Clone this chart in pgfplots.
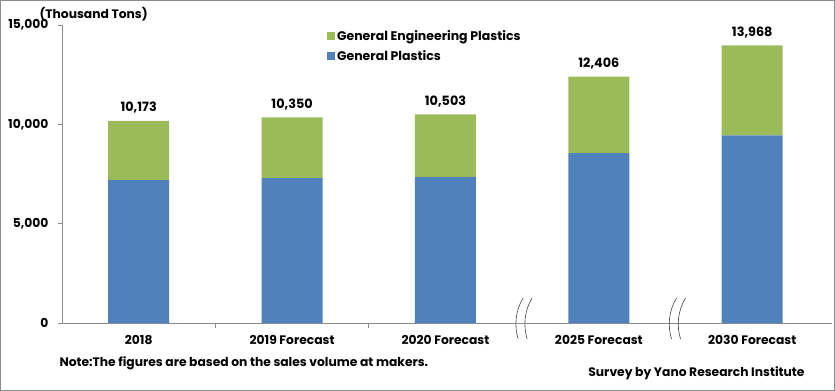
\documentclass[border=0pt]{standalone}
\usepackage{pgfplots}
\pgfplotsset{compat=1.18}
\usepackage{pgfplotstable}
\usepackage{fontspec}
\setmainfont{Poppins}
\definecolor{gp}{HTML}{4F81BD}
\definecolor{gep}{HTML}{9BBB59}
\definecolor{ax}{HTML}{8C8C8C}
\pgfplotstableread{
x gp gep total
0 7190 2983 10173
1 7290 3060 10350
2 7340 3163 10503
3 8545 3861 12406
4 9448 4520 13968
}\data
\begin{document}
\begin{tikzpicture}
\path (0bp,0bp) rectangle (835bp,391bp);
\begin{axis}[
  at={(62bp,68bp)}, anchor=south west,
  scale only axis, width=770bp, height=298bp,
  ybar stacked, bar width=61bp,
  xmin=-0.5, xmax=4.52, ymin=0, ymax=15000,
  axis x line*=bottom, axis y line*=left,
  axis line style={ax, line width=0.8bp},
  xtick={0,1,2,3,4},
  xticklabels={2018,2019 Forecast,2020 Forecast,2025 Forecast,2030 Forecast},
  xtick style={draw=none},
  x tick label style={font=\bfseries\fontsize{12.3bp}{14bp}\selectfont, yshift=-5bp},
  ytick={0,5000,10000,15000},
  ytick style={ax, line width=0.8bp},
  tick align=outside, major tick length=4bp,
  y tick label style={font=\bfseries\fontsize{12.3bp}{14bp}\selectfont, xshift=-6bp},
  /pgf/number format/assume math mode=true,
  /pgf/number format/1000 sep={,},
  scaled y ticks=false,
  clip=false,
  legend style={at={(0.344,0.99)}, anchor=north west, draw=none, fill=none,
    font=\bfseries\fontsize{12.5bp}{14bp}\selectfont, row sep=5bp,
    inner sep=0pt},
  legend cell align=left,
  reverse legend,
  legend image code/.code={\fill[#1] (0bp,-4bp) rectangle (8bp,4bp);},
]
\addplot[fill=gp, draw=none] table[x=x, y=gp] {\data};
\addlegendentry{General Plastics}
\addplot[fill=gep, draw=none] table[x=x, y=gep] {\data};
\addlegendentry{General Engineering Plastics}
\draw[ax, line width=0.8bp] (axis cs:0.5,0) -- ++(0bp,-5bp);
\draw[ax, line width=0.8bp] (axis cs:1.5,0) -- ++(0bp,-5bp);
\draw[black!75, line width=0.6bp, shift={(axis cs:2.5,0)}] (1bp,25bp) .. controls (-7bp,12bp) and (-8bp,-3bp) .. (-4bp,-16bp);
\draw[black!75, line width=0.6bp, shift={(axis cs:2.5,0)}] (10bp,25bp) .. controls (2bp,12bp) and (1bp,-3bp) .. (5bp,-16bp);
\draw[black!75, line width=0.6bp, shift={(axis cs:3.5,0)}] (1bp,25bp) .. controls (-7bp,12bp) and (-8bp,-3bp) .. (-4bp,-16bp);
\draw[black!75, line width=0.6bp, shift={(axis cs:3.5,0)}] (10bp,25bp) .. controls (2bp,12bp) and (1bp,-3bp) .. (5bp,-16bp);
\end{axis}
\begin{axis}[
  at={(62bp,68bp)}, anchor=south west,
  scale only axis, width=770bp, height=298bp,
  xmin=-0.5, xmax=4.52, ymin=0, ymax=15000,
  hide axis, clip=false,
  /pgf/number format/assume math mode=true,
  /pgf/number format/1000 sep={,},
]
\addplot[draw=none, mark=none,
  point meta=explicit,
  nodes near coords={\pgfmathprintnumber[assume math mode=true,1000 sep={,}]{\pgfplotspointmeta}},
  nodes near coords style={font=\bfseries\fontsize{12.8bp}{15bp}\selectfont, anchor=south, yshift=4bp, text=black}
  ] table[x=x, y=total, meta=total] {\data};
\end{axis}
\node[anchor=west, font=\bfseries\fontsize{12.3bp}{14bp}\selectfont] at (36bp,377bp) {(Thousand Tons)};
\node[anchor=west, font=\bfseries\fontsize{12.3bp}{14bp}\selectfont] at (56bp,28bp) {Note:The figures are based on the sales volume at makers.};
\node[anchor=east, font=\bfseries\fontsize{12.3bp}{14bp}\selectfont] at (808bp,18bp) {Survey by Yano Research Institute};
\draw[ax, line width=1bp] (0.5bp,0.5bp) rectangle (834.5bp,390.5bp);
\end{tikzpicture}
\end{document}
